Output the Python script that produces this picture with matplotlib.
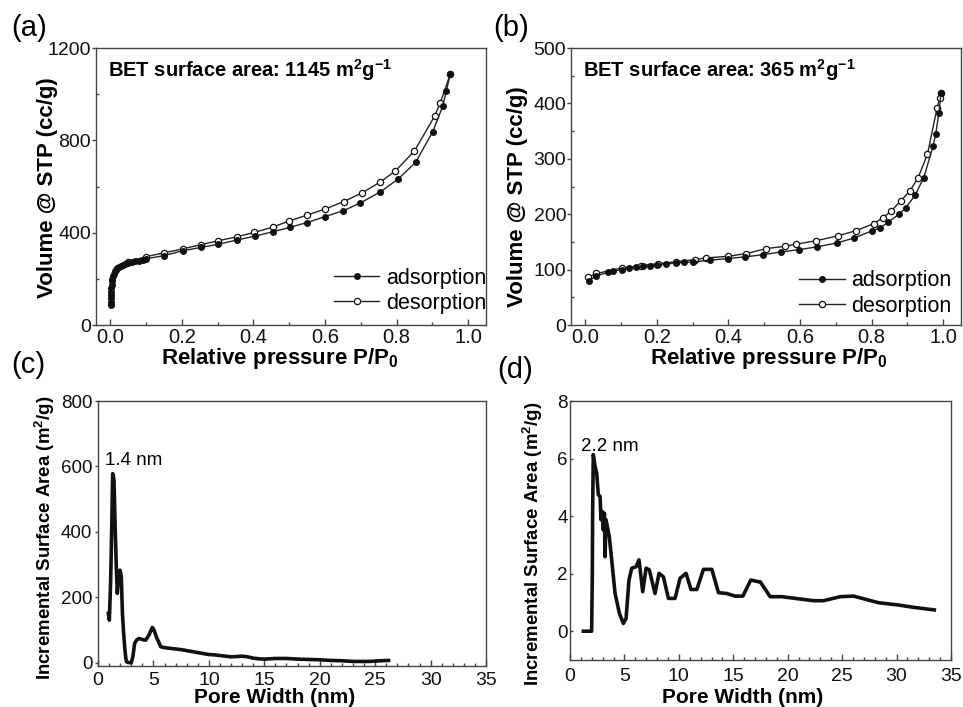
import matplotlib
matplotlib.use("Agg")
import matplotlib.pyplot as plt
from matplotlib.ticker import MultipleLocator, FormatStrFormatter

plt.rcParams['font.family'] = ['Liberation Sans', 'DejaVu Sans']
plt.rcParams['mathtext.fontset'] = 'custom'
plt.rcParams['mathtext.rm'] = 'Liberation Sans'
plt.rcParams['mathtext.bf'] = 'Liberation Sans:bold'
plt.rcParams['mathtext.it'] = 'Liberation Sans:italic'

# (a) isotherm, 1145 m2/g sample
ads_a_x = [0.0005, 0.001, 0.0015, 0.002, 0.0025, 0.003, 0.004, 0.005, 0.006, 0.008, 0.01,
           0.013, 0.016, 0.02, 0.025, 0.03, 0.035, 0.04, 0.05, 0.06, 0.07, 0.08, 0.09, 0.1,
           0.151, 0.203, 0.253, 0.302, 0.353, 0.404, 0.454, 0.502, 0.550, 0.599, 0.651,
           0.699, 0.755, 0.804, 0.853, 0.901, 0.929, 0.939, 0.950]
ads_a_y = [88, 100, 115, 130, 145, 160, 175, 190, 200, 212, 222, 232, 238, 245, 251, 256,
           260, 263, 268, 272, 276, 279, 283, 287, 301, 322, 336, 350, 368, 385, 404, 423,
           444, 469, 495, 529, 577, 632, 704, 837, 948, 1014, 1086]
des_a_x = [0.950, 0.922, 0.906, 0.850, 0.797, 0.755, 0.704, 0.653, 0.601, 0.550, 0.500,
           0.454, 0.402, 0.353, 0.302, 0.253, 0.203, 0.151, 0.099, 0.049]
des_a_y = [1086, 962, 904, 754, 668, 620, 573, 535, 503, 476, 451, 424, 401, 382, 365,
           348, 330, 313, 296, 274]

# (b) isotherm, 365 m2/g sample
ads_b_x = [0.009, 0.029, 0.062, 0.077, 0.101, 0.121, 0.141, 0.161, 0.182, 0.201, 0.226,
           0.253, 0.277, 0.301, 0.348, 0.399, 0.447, 0.497, 0.548, 0.597, 0.646, 0.702,
           0.751, 0.801, 0.823, 0.847, 0.877, 0.896, 0.921, 0.946, 0.972, 0.979, 0.988, 0.994]
ads_b_y = [79, 88, 95, 97, 100, 102, 104, 106, 107, 109, 110, 112, 113, 114, 117, 120, 123,
           127, 132, 136, 141, 148, 157, 170, 175, 186, 200, 212, 234, 266, 324, 344, 383, 418]
des_b_x = [0.994, 0.991, 0.983, 0.956, 0.930, 0.907, 0.881, 0.854, 0.832, 0.806, 0.755,
           0.706, 0.644, 0.590, 0.557, 0.506, 0.450, 0.399, 0.336, 0.306, 0.253, 0.203,
           0.155, 0.103, 0.031, 0.008]
des_b_y = [418, 410, 392, 308, 266, 242, 224, 205, 194, 183, 170, 161, 152, 146, 142, 138,
           129, 124, 121, 118, 114, 111, 107, 103, 93, 86]

# (c) pore size distribution
pw_c = [0.93, 1.02, 1.08, 1.14, 1.23, 1.28, 1.32, 1.38, 1.44, 1.53, 1.62, 1.68, 1.74, 1.80,
        1.86, 1.92, 1.98, 2.04, 2.1, 2.2, 2.3, 2.4, 2.5, 2.57, 2.7, 2.85, 3.0, 3.15, 3.3,
        3.5, 3.7, 3.9, 4.1, 4.3, 4.6, 4.9, 5.05, 5.26, 5.45, 5.65, 6.0, 6.5, 7.0, 7.5, 8.0,
        8.5, 9.0, 9.5, 10.0, 10.5, 11.0, 11.5, 12.0, 12.5, 13.0, 13.5, 14.0, 14.5, 15.0,
        15.5, 16.0, 16.5, 17.0, 18.0, 19.0, 20.0, 21.0, 22.0, 23.0, 24.0, 24.5, 25.0, 25.5, 26.2]
sa_c = [151, 130, 190, 252, 405, 500, 578, 570, 558, 435, 324, 260, 212, 240, 252, 270, 283,
        275, 262, 151, 95, 49, 15, 3, 1, 0, 0, 20, 59, 70, 74, 72, 70, 69, 85, 108, 100, 79,
        65, 49, 46, 44, 42, 40, 37, 34, 31, 28, 25, 24, 22, 20, 18, 19, 20, 18, 14, 12, 11,
        12, 13, 13, 13, 11, 10, 9, 7, 6, 4, 4, 4, 5, 6, 7]

# (d) pore size distribution
pw_d = [1.23, 1.99, 2.05, 2.08, 2.14, 2.3, 2.45, 2.6, 2.76, 2.85, 2.97, 3.06, 3.16, 3.22,
        3.31, 3.43, 3.61, 3.83, 4.14, 4.54, 4.9, 5.15, 5.42, 5.67, 6.07, 6.34, 6.68, 6.99,
        7.29, 7.81, 8.18, 8.58, 9.04, 9.65, 10.11, 10.66, 11.12, 11.65, 12.26, 13.03, 13.64,
        14.4, 15.17, 15.88, 16.61, 17.31, 17.47, 18.39, 19.46, 22.37, 23.29, 24.82, 26.05,
        28.35, 30.18, 31.56, 33.47]
sa_d = [0, 0, 2.0, 4.2, 6.14, 5.73, 5.5, 4.74, 4.69, 3.87, 4.16, 3.52, 4.1, 2.59, 3.87, 3.64,
        3.29, 2.48, 1.31, 0.62, 0.27, 0.44, 1.78, 2.19, 2.24, 2.48, 1.37, 2.19, 2.13, 1.31,
        2.01, 1.89, 1.14, 1.14, 1.84, 2.01, 1.45, 1.45, 2.15, 2.15, 1.34, 1.31, 1.22, 1.22,
        1.78, 1.72, 1.72, 1.2, 1.2, 1.06, 1.06, 1.2, 1.22, 0.99, 0.91, 0.83, 0.74]

SPINE = '#444444'


def style_axes(ax, xsize, ysize, pad_x, pad_y, ydir, ylen):
    for s in ax.spines.values():
        s.set_color(SPINE)
        s.set_linewidth(1.0)
    ax.tick_params(which='both', direction='in', colors=SPINE, labelcolor='#111111')
    ax.tick_params(which='major', length=4, width=1)
    ax.tick_params(which='minor', length=2.5, width=1)
    ax.tick_params(axis='y', which='major', direction=ydir, length=ylen)
    ax.tick_params(axis='x', labelsize=xsize, pad=pad_x)
    ax.tick_params(axis='y', labelsize=ysize, pad=pad_y)


def iso_plot(ax, ax_, ay_, dx_, dy_, ymax, ymaj, ymin, bet, leg_anchor, ylab_pos, xlab_pos):
    ax.plot(dx_, dy_, color='#222222', lw=1.0, marker='o', ms=4.5,
            mfc='white', mec='#111111', mew=0.9, label='desorption')
    ax.plot(ax_, ay_, color='#222222', lw=1.0, marker='o', ms=4,
            mfc='#111111', mec='#111111', label='adsorption')
    ax.set_xlim(-0.04, 1.05)
    ax.set_ylim(0, ymax)
    ax.xaxis.set_major_locator(MultipleLocator(0.2))
    ax.xaxis.set_minor_locator(MultipleLocator(0.1))
    ax.xaxis.set_major_formatter(FormatStrFormatter('%.1f'))
    ax.yaxis.set_major_locator(MultipleLocator(ymaj))
    ax.yaxis.set_minor_locator(MultipleLocator(ymin))
    style_axes(ax, 14.5, 14, 2, 0.5, 'out', 3)
    ax.set_ylabel('Volume @ STP (cc/g)', fontsize=16, fontweight='bold')
    ax.yaxis.set_label_coords(*ylab_pos)
    ax.set_xlabel(r'Relative pressure P/P$_\mathbf{0}$', fontsize=16, fontweight='bold')
    ax.xaxis.set_label_coords(*xlab_pos)
    ax.text(0.03, 0.895, bet, transform=ax.transAxes, fontsize=14.5,
            fontweight='bold', va='baseline', ha='left')
    h, l = ax.get_legend_handles_labels()
    ax.legend(h[::-1], l[::-1], loc='lower right', bbox_to_anchor=leg_anchor,
              frameon=False, fontsize=15.5, handlelength=2.1, handletextpad=0.3,
              labelspacing=0.2, borderaxespad=0, borderpad=0)


def pore_plot(ax, x, y, ylim, ymaj, label, label_xy, ylab_pos, xlab_pos, pad_x, ydir):
    ax.plot(x, y, color='#111111', lw=2.6)
    ax.set_xlim(0, 35)
    ax.set_ylim(*ylim)
    ax.xaxis.set_major_locator(MultipleLocator(5))
    ax.xaxis.set_minor_locator(MultipleLocator(1))
    ax.yaxis.set_major_locator(MultipleLocator(ymaj))
    style_axes(ax, 14, 13.5, pad_x, 1.5, ydir, 2.5)
    ax.set_ylim(*ylim)
    ax.set_ylabel(r'Incremental Surface Area (m$^\mathbf{2}$/g)', fontsize=13.4,
                  fontweight='bold')
    ax.yaxis.set_label_coords(*ylab_pos)
    ax.set_xlabel('Pore Width (nm)', fontsize=15, fontweight='bold')
    ax.xaxis.set_label_coords(*xlab_pos)
    ax.text(label_xy[0], label_xy[1], label, fontsize=13.5, va='baseline', ha='left')


fig = plt.figure(figsize=(9.63, 7.07), dpi=100)

ax_a = fig.add_axes([0.0997, 0.5403, 0.405, 0.3918])
iso_plot(ax_a, ads_a_x, ads_a_y, des_a_x, des_a_y, 1200, 400, 200,
         r'BET surface area: 1145 m$^\mathbf{2}$g$^\mathbf{-1}$',
         (1.0, 0.04), (-0.098, 0.496), (0.472, -0.074))

ax_b = fig.add_axes([0.593, 0.5403, 0.405, 0.3918])
iso_plot(ax_b, ads_b_x, ads_b_y, des_b_x, des_b_y, 500, 100, 50,
         r'BET surface area: 365 m$^\mathbf{2}$g$^\mathbf{-1}$',
         (0.975, 0.03), (-0.11, 0.464), (0.508, -0.074))

ax_c = fig.add_axes([0.1018, 0.058, 0.4029, 0.3748])
pore_plot(ax_c, pw_c, sa_c, (-10, 800), 200, '1.4 nm', (0.63, 604),
          (-0.105, 0.485), (0.455, -0.083), 4, 'out')

ax_d = fig.add_axes([0.5919, 0.0665, 0.3956, 0.3663])
pore_plot(ax_d, pw_d, sa_d, (-1, 8), 2, '2.2 nm', (0.98, 6.27),
          (-0.066, 0.45), (0.454, -0.108), 6, 'in')

fig.text(0.012, 0.98, '(a)', fontsize=21, va='top', ha='left')
fig.text(0.512, 0.98, '(b)', fontsize=21, va='top', ha='left')
fig.text(0.012, 0.503, '(c)', fontsize=21, va='top', ha='left')
fig.text(0.516, 0.497, '(d)', fontsize=21, va='top', ha='left')

fig.savefig('out.png', dpi=100)
